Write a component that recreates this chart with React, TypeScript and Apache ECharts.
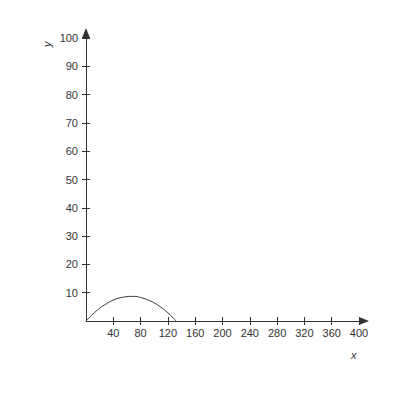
import { useEffect, useRef } from 'react';
import * as echarts from 'echarts';

// x ticks / labels (no label at 0)
const xTicks = [40, 80, 120, 160, 200, 240, 280, 320, 360, 400];
const yTicks = [10, 20, 30, 40, 50, 60, 70, 80, 90, 100];

// arc
const curveX = [0, 10, 20, 30, 40, 50, 60, 66, 70, 80, 90, 100, 110, 120, 126, 132];
const curveY = [0, 2.4, 4.5, 6.1, 7.4, 8.2, 8.6, 8.7, 8.7, 8.3, 7.5, 6.4, 4.8, 2.9, 1.5, 0];

const axisColor = '#333';
const font = 'Liberation Sans, Arial, sans-serif';
const labelStyle = { fontSize: 11, color: '#333', fontFamily: font };

export default function App() {
  const ref = useRef<HTMLDivElement>(null);

  useEffect(() => {
    if (!ref.current) return;
    const chart = echarts.init(ref.current, null, { renderer: 'svg' });
    chart.setOption({
      animation: false,
      grid: { left: 86, right: 41, top: 38, bottom: 79 },
      xAxis: [
        {
          type: 'value', min: 0, max: 400,
          axisLine: { lineStyle: { color: axisColor, width: 1 }, symbol: ['none', 'triangle'], symbolSize: [8, 10], symbolOffset: [0, 5] },
          axisTick: { customValues: xTicks, length: 4, lineStyle: { color: axisColor } },
          axisLabel: { customValues: xTicks, margin: 6, ...labelStyle },
          splitLine: { show: false },
        },
        {
          type: 'value', min: 0, max: 400, position: 'bottom',
          axisLine: { show: false },
          axisTick: { customValues: xTicks, inside: true, length: 4, lineStyle: { color: axisColor } },
          axisLabel: { show: false },
          splitLine: { show: false },
        },
      ],
      yAxis: [
        {
          type: 'value', min: 0, max: 100,
          axisLine: { show: true, lineStyle: { color: axisColor, width: 1 }, symbol: ['none', 'triangle'], symbolSize: [8, 10], symbolOffset: [0, 5] },
          axisTick: { show: true, customValues: yTicks, length: 4, lineStyle: { color: axisColor } },
          axisLabel: { customValues: yTicks, margin: 8, ...labelStyle },
          splitLine: { show: false },
        },
        {
          type: 'value', min: 0, max: 100, position: 'left',
          axisLine: { show: false },
          axisTick: { show: true, customValues: yTicks, inside: true, length: 4, lineStyle: { color: axisColor } },
          axisLabel: { show: false },
          splitLine: { show: false },
        },
      ],
      graphic: [
        { type: 'text', x: 41, y: 47, rotation: Math.PI / 2, style: { text: 'y', fontSize: 11, fontStyle: 'italic', fill: '#333', fontFamily: font } },
        { type: 'text', x: 351, y: 349, style: { text: 'x', fontSize: 11, fontStyle: 'italic', fill: '#333', fontFamily: font } },
      ],
      series: [
        {
          type: 'line',
          data: curveX.map((x, i) => [x, curveY[i]]),
          smooth: true,
          showSymbol: false,
          lineStyle: { color: '#333', width: 1 },
        },
      ],
    });
    return () => chart.dispose();
  }, []);

  return <div ref={ref} style={{ position: 'fixed', left: 0, top: 0, width: 400, height: 400, background: '#fff' }} />;
}
